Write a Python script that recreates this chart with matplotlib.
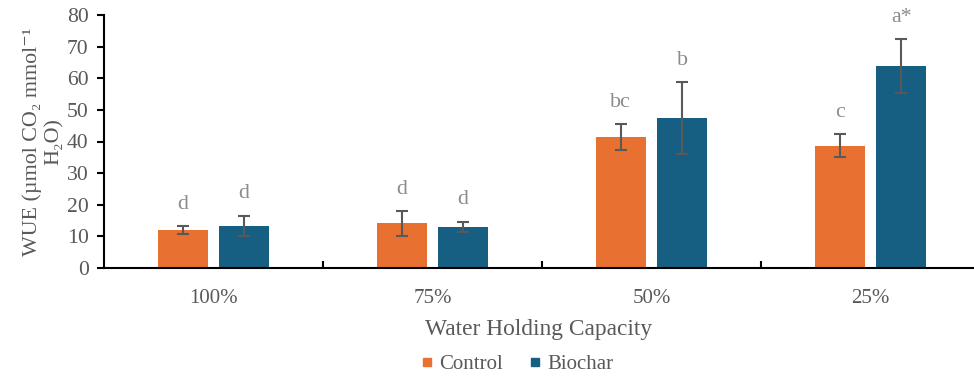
import matplotlib
matplotlib.use("Agg")
import matplotlib.pyplot as plt
from matplotlib.lines import Line2D
from matplotlib.font_manager import FontProperties
import numpy as np

plt.rcParams['font.family'] = ['Liberation Serif', 'DejaVu Serif']

categories = ["100%", "75%", "50%", "25%"]
control = [11.9, 14.1, 41.3, 38.7]
control_err = [1.3, 3.9, 4.1, 3.6]
biochar = [13.4, 13.1, 47.5, 63.8]
biochar_err = [3.2, 1.6, 11.4, 8.6]
control_letters = ["d", "d", "bc", "c"]
biochar_letters = ["d", "d", "b", "a*"]

C_CONTROL = "#E87132"
C_BIOCHAR = "#175F82"
C_ERR = "#595959"
C_TEXT = "#595959"
C_LETTER = "#8C8C8C"

W, H = 974, 378
fig = plt.figure(figsize=(W / 100, H / 100), dpi=100)
ax = fig.add_axes([104 / W, (H - 268) / H, (973 - 104) / W, (268 - 15) / H])

x = np.arange(len(categories))
off, bw = 0.14, 0.228
err_kw = dict(ecolor=C_ERR, elinewidth=1.5, capsize=4.5, capthick=1.5)
ax.bar(x - off, control, bw, color=C_CONTROL, yerr=control_err, error_kw=err_kw, zorder=2)
ax.bar(x + off, biochar, bw, color=C_BIOCHAR, yerr=biochar_err, error_kw=err_kw, zorder=2)

for xi, v, e, lab in zip(x - off, control, control_err, control_letters):
    ax.annotate(lab, (xi, v + e), xytext=(0, 12.3), textcoords="offset points",
                ha="center", va="baseline", fontsize=15.8, color=C_LETTER)
for xi, v, e, lab in zip(x + off, biochar, biochar_err, biochar_letters):
    ax.annotate(lab, (xi, v + e), xytext=(0, 12.3), textcoords="offset points",
                ha="center", va="baseline", fontsize=15.8, color=C_LETTER)

ax.set_xlim(-0.5, -0.5 + (973 - 104) / 219)
ax.set_ylim(0, 80)
ax.set_yticks(np.arange(0, 81, 10))
ax.set_xticks(x)
ax.set_xticklabels(categories)
ax.set_xticks(x[:-1] + 0.5, minor=True)

for s in ("top", "right"):
    ax.spines[s].set_visible(False)
for s in ("left", "bottom"):
    ax.spines[s].set_linewidth(1.5)
    ax.spines[s].set_color("black")

ax.tick_params(axis="y", direction="out", length=5, width=1.5, labelsize=15.6,
               labelcolor=C_TEXT, pad=6)
ax.tick_params(axis="x", which="major", length=0, labelsize=15, labelcolor=C_TEXT, pad=15)
ax.tick_params(axis="x", which="minor", direction="in", length=5, width=1.5)

ax.set_xlabel("Water Holding Capacity", fontsize=16.8, color=C_TEXT, labelpad=8)
ax.set_ylabel("WUE (µmol CO₂ mmol⁻¹\nH₂O)", fontsize=15.8, color=C_TEXT,
              linespacing=1.2, labelpad=2)

handles = [
    Line2D([], [], marker="s", linestyle="none", markersize=6, color=C_CONTROL),
    Line2D([], [], marker="s", linestyle="none", markersize=6, color=C_BIOCHAR),
]
leg_font = FontProperties(family=['Liberation Serif', 'DejaVu Serif'], size=15)
leg = fig.legend(handles, ["Control", "Biochar"], loc="center",
                 bbox_to_anchor=(517 / W, (H - 364) / H),
                 ncol=2, frameon=False, prop=leg_font, handlelength=0.6,
                 handletextpad=0.3, columnspacing=1.2)
for t in leg.get_texts():
    t.set_color(C_TEXT)

fig.savefig("out.png", dpi=100)
